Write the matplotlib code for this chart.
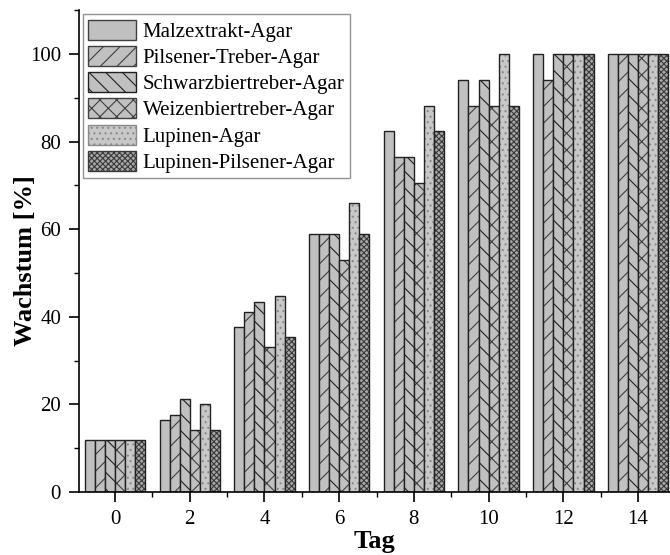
import matplotlib.pyplot as plt
import numpy as np
from matplotlib.ticker import MultipleLocator

plt.rcParams['font.family'] = ['Liberation Serif', 'DejaVu Serif']
plt.rcParams['hatch.linewidth'] = 0.8

days = [0, 2, 4, 6, 8, 10, 12, 14]
labels = ['Malzextrakt-Agar', 'Pilsener-Treber-Agar', 'Schwarzbiertreber-Agar',
          'Weizenbiertreber-Agar', 'Lupinen-Agar', 'Lupinen-Pilsener-Agar']

malz = [11.8, 16.5, 37.6, 58.8, 82.4, 94.1, 100, 100]
pils = [11.8, 17.6, 41.2, 58.8, 76.5, 88.2, 94.1, 100]
schwarz = [11.8, 21.2, 43.5, 58.8, 76.5, 94.1, 100, 100]
weizen = [11.8, 14.1, 33.0, 52.9, 70.6, 88.2, 100, 100]
lupinen = [11.8, 20.0, 44.7, 65.9, 88.2, 100, 100, 100]
lup_pils = [11.8, 14.1, 35.3, 58.8, 82.4, 88.2, 100, 100]
series = [malz, pils, schwarz, weizen, lupinen, lup_pils]

hatches = ['', '//', '\\\\', 'xx', '...', 'xxxxxx']
hatch_cols = ['#404040', '#404040', '#202020', '#404040', '#8a8a8a', '#3a3a3a']
fills = ['#c0c0c0', '#c0c0c0', '#c0c0c0', '#c0c0c0', '#c8c8c8', '#a8a8a8']

fig = plt.figure(figsize=(6.7, 5.55), dpi=100)
ax = fig.add_axes([0.118, 0.1135, 0.882, 0.868])

w = 0.27
x = np.array(days, dtype=float)
handles = []
for i, vals in enumerate(series):
    pos = x + (i - 2.5) * w
    ax.bar(pos, vals, w, color=fills[i], hatch=hatches[i],
           edgecolor=hatch_cols[i], linewidth=0)
    ax.bar(pos, vals, w, fill=False, edgecolor='#222222', linewidth=1.0)
    h = plt.Rectangle((0, 0), 1, 1, facecolor=fills[i], hatch=hatches[i],
                      edgecolor=hatch_cols[i], linewidth=1.0)
    handles.append(h)

ax.set_xlim(-0.964, 14.855)
ax.set_ylim(0, 110)
ax.set_xticks(days)
ax.xaxis.set_minor_locator(MultipleLocator(1))
ax.set_yticks([0, 20, 40, 60, 80, 100])
ax.yaxis.set_minor_locator(MultipleLocator(10))
ax.tick_params(which='major', direction='out', length=7, width=1.2,
               labelsize=15, pad=6)
ax.tick_params(which='minor', direction='out', length=3.5, width=1.0)
ax.spines['top'].set_visible(False)
ax.spines['right'].set_visible(False)
ax.spines['left'].set_linewidth(1.2)
ax.spines['bottom'].set_linewidth(1.2)

ax.set_xlabel('Tag', fontsize=19, fontweight='bold', labelpad=1)
ax.set_ylabel('Wachstum [%]', fontsize=19, fontweight='bold')
ax.yaxis.set_label_coords(-0.072, 0.48)

leg = ax.legend(handles, labels, loc='upper left', bbox_to_anchor=(0.0, 1.0),
                fontsize=15, frameon=True, fancybox=False, edgecolor='#777777',
                handlelength=2.3, handleheight=1.1, handletextpad=0.3,
                labelspacing=0.2, borderpad=0.25, borderaxespad=0.2)
leg.get_frame().set_linewidth(1.0)

fig.savefig('out.png', dpi=100)
